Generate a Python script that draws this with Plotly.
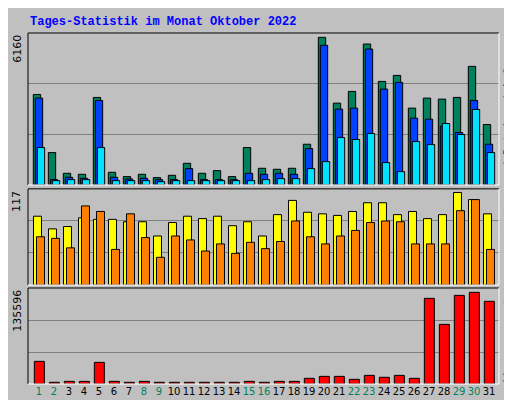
import plotly.graph_objects as go

days = list(range(1, 32))
weekend = [1, 2, 8, 9, 15, 16, 22, 23, 29, 30]

hits = [3777, 1352, 488, 446, 3652, 530, 349, 446, 307, 404, 906, 488, 599, 349, 1561,
        697, 655, 697, 1700, 6160, 3415, 3903, 5882, 4321, 4572, 3206, 3624, 3582, 3652, 4948, 2523]
files = [3624, 223, 320, 279, 3526, 320, 251, 279, 223, 223, 683, 223, 223, 223, 488,
         446, 488, 446, 1519, 5826, 3164, 3206, 5673, 4000, 4279, 2788, 2746, 2453, 2188, 3526, 1700]
pages = [1561, 181, 223, 223, 1561, 181, 181, 181, 139, 181, 181, 181, 181, 181, 181,
         223, 265, 265, 683, 976, 1979, 1896, 2147, 934, 558, 1812, 1687, 2565, 2105, 3150, 1352]
visits = [87, 71, 74, 85, 83, 83, 80, 80, 62, 79, 87, 84, 87, 75, 80,
          62, 89, 107, 92, 90, 88, 93, 104, 104, 89, 93, 84, 89, 117, 108, 90]
sites = [61, 59, 47, 100, 93, 45, 90, 60, 35, 62, 57, 43, 52, 40, 54,
         46, 55, 81, 61, 52, 62, 69, 79, 81, 80, 52, 52, 52, 94, 108, 45]
kbytes = [33500, 2500, 3900, 3900, 32000, 3900, 2500, 3900, 2500, 2500, 2500, 2500, 2500, 2500, 3900,
          2500, 3900, 3900, 8400, 11300, 11300, 6900, 12800, 9900, 12800, 8400, 126700, 88200, 131100, 135596, 122300]

R1, R2, R3 = 6341, 121.6, 142005
GREEN, BLUE, CYAN = "#00805C", "#0040FF", "#00E0FF"
YEL, ORA, RED = "#FFFF00", "#FF8000", "#FF0000"

fig = go.Figure()

def bar(y, color, off, w, ax):
    fig.add_trace(go.Bar(x=days, y=y, offset=off, width=w, yaxis=ax, xaxis=ax.replace("y", "x"),
                         marker=dict(color=color, line=dict(color="black", width=1))))

bar(hits, GREEN, -0.378, 0.489, "y")
bar(files, BLUE, -0.244, 0.489, "y")
bar(pages, CYAN, -0.111, 0.489, "y")
bar(visits, YEL, -0.367, 0.533, "y2")
bar(sites, ORA, -0.167, 0.533, "y2")
bar(kbytes, RED, -0.311, 0.667, "y3")

ticktext = ['<span style="color:%s">%d</span>' % ("#00805C" if d in weekend else "black", d) for d in days]

xcommon = dict(range=[0.267, 31.667], showgrid=False, zeroline=False, fixedrange=True, automargin=False)
fig.update_layout(
    xaxis=dict(**xcommon, showticklabels=False, anchor="y"),
    xaxis2=dict(**xcommon, showticklabels=False, anchor="y2"),
    xaxis3=dict(**xcommon, anchor="y3", tickvals=days, ticktext=ticktext, ticks="", tickangle=0,
                tickfont=dict(family="DejaVu Sans", size=10)),
)
for name, dom, R in [("yaxis", [0.567, 1], R1), ("yaxis2", [0.282, 0.556], R2), ("yaxis3", [0, 0.2735], R3)]:
    fig.layout[name] = dict(domain=dom, range=[0, R], tickvals=[R / 3, 2 * R / 3], showticklabels=False,
                            gridcolor="#808080", gridwidth=1, zeroline=False, ticks="", automargin=False)

shapes = []
for y0, y1 in [(0.567, 1), (0.282, 0.556), (0, 0.2735)]:
    shapes += [
        dict(type="line", xref="paper", yref="paper", x0=0, x1=1, y0=y1, y1=y1, line=dict(color="black", width=1)),
        dict(type="line", xref="paper", yref="paper", x0=0, x1=0, y0=y0, y1=y1, line=dict(color="black", width=1)),
        dict(type="line", xref="paper", yref="paper", x0=0, x1=1, y0=y0, y1=y0, line=dict(color="white", width=1)),
        dict(type="line", xref="paper", yref="paper", x0=1, x1=1, y0=y0, y1=y1, line=dict(color="white", width=1)),
    ]

anns = [
    dict(text="<b>Tages-Statistik im Monat Oktober 2022</b>", x=-0.0, y=1.006, xanchor="left", yanchor="bottom",
         font=dict(family="Liberation Mono", size=12, color="#0000FF")),
]
for label, ytop in [("6160", 1.0), ("117", 0.556), ("135596", 0.2735)]:
    anns.append(dict(text=label, textangle=-90, x=-0.006, y=ytop, xanchor="right", yanchor="top",
                     font=dict(family="DejaVu Sans", size=11, color="black")))
sl = '<span style="color:#606060"> / </span>'
anns += [
    dict(text='<span style="color:%s">Seiten</span>%s<span style="color:%s">Dateien</span>%s<span style="color:%s">Anfragen</span>'
         % (CYAN, sl, BLUE, sl, GREEN), textangle=-90, x=1.001, y=1.0, xanchor="left", yanchor="top"),
    dict(text='<span style="color:%s">Rechner</span>%s<span style="color:#E0E000">Besuche</span>' % (ORA, sl),
         textangle=-90, x=1.001, y=0.556, xanchor="left", yanchor="top"),
    dict(text='<span style="color:%s">kb</span>' % RED, textangle=-90, x=1.001, y=0.0, xanchor="left", yanchor="bottom"),
]
for a in anns[-3:]:
    a.update(font=dict(family="DejaVu Sans Mono", size=11))
for a in anns:
    a.update(xref="paper", yref="paper", showarrow=False)

fig.update_layout(
    width=512, height=400, margin=dict(l=20, r=21, t=25, b=24, autoexpand=False),
    paper_bgcolor="#C0C0C0", plot_bgcolor="#C0C0C0",
    showlegend=False, barmode="overlay", shapes=shapes, annotations=anns,
)

fig.write_html("out.html")
